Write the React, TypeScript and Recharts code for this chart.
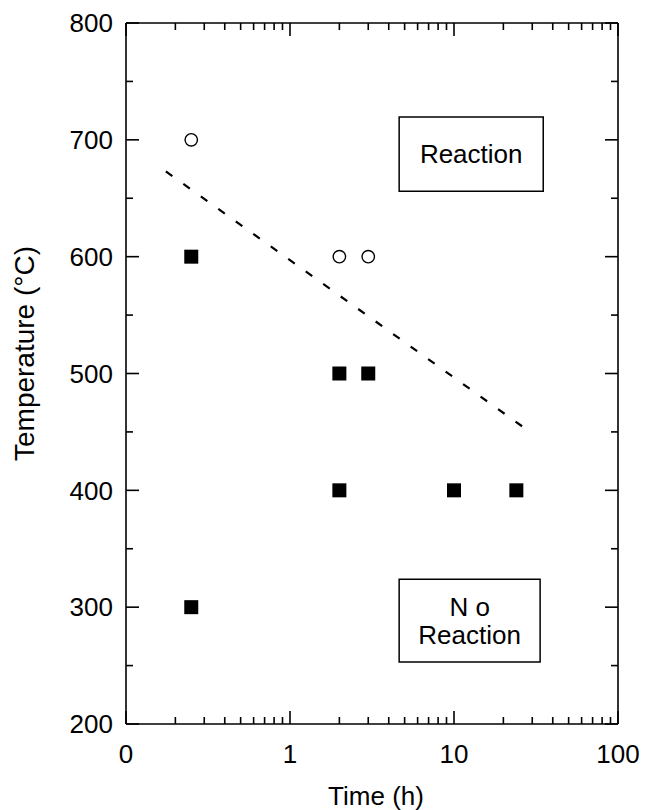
import React from 'react';
import {
  ScatterChart,
  Scatter,
  XAxis,
  YAxis,
  ReferenceLine,
  ReferenceArea,
} from 'recharts';

// ---- data ----
const xTicksMajor = [0.1, 1, 10, 100];
const xTickLabels = ['0', '1', '10', '100'];
const xTicksMinor = [
  0.2, 0.3, 0.4, 0.5, 0.6, 0.7, 0.8, 0.9,
  2, 3, 4, 5, 6, 7, 8, 9,
  20, 30, 40, 50, 60, 70, 80, 90,
];
const yTicksMajor = [200, 300, 400, 500, 600, 700, 800];
const yTicksMinor = [250, 350, 450, 550, 650, 750];

const noReactionTime = [0.25, 0.25, 2, 3, 2, 10, 24];
const noReactionTemp = [600, 300, 500, 500, 400, 400, 400];

const reactionTime = [0.25, 2, 3];
const reactionTemp = [700, 600, 600];

const boundaryTime = [0.175, 28.4];
const boundaryTemp = [673, 451];

const reactionBoxTime = [4.63, 35];
const reactionBoxTemp = [656, 719.5];
const noReactionBoxTime = [4.63, 33.5];
const noReactionBoxTemp = [253, 324];

const noReactionData = noReactionTime.map((t, i) => ({ x: t, y: noReactionTemp[i] }));
const reactionData = reactionTime.map((t, i) => ({ x: t, y: reactionTemp[i] }));

const xTicksAll = [...xTicksMajor, ...xTicksMinor].sort((a, b) => a - b);
const yTicksAll = [...yTicksMajor, ...yTicksMinor].sort((a, b) => a - b);

const FONT = '"Liberation Sans", Arial, Helvetica, sans-serif';
const FS = 26;
const MAJOR = 13;
const MINOR = 7;
const SW = 1.6;

const isMajorX = (v: number) => xTicksMajor.some((m) => Math.abs(m - v) < 1e-9);
const isMajorY = (v: number) => yTicksMajor.some((m) => Math.abs(m - v) < 1e-9);

// bottom axis: tickSize 0, tickMargin 21 -> y = plotBottom + 21
const BOTTOM_GAP = 21;
const BottomTick = (props: any) => {
  const { x, y, payload } = props;
  const v = payload.value;
  const major = isMajorX(v);
  const y0 = y - BOTTOM_GAP;
  const idx = xTicksMajor.findIndex((m) => Math.abs(m - v) < 1e-9);
  return (
    <g>
      <line x1={x} x2={x} y1={y0} y2={y0 - (major ? MAJOR : MINOR)} stroke="#000" strokeWidth={SW} />
      {major && (
        <text x={x} y={y} dy="0.71em" textAnchor="middle" fontFamily={FONT} fontSize={FS} fill="#000">
          {xTickLabels[idx]}
        </text>
      )}
    </g>
  );
};

const TopTick = (props: any) => {
  const { x, y, payload } = props;
  const major = isMajorX(payload.value);
  return <line x1={x} x2={x} y1={y} y2={y + (major ? MAJOR : MINOR)} stroke="#000" strokeWidth={SW} />;
};

// left axis: tickSize 0, tickMargin 13 -> x = plotLeft - 13
const LEFT_GAP = 13;
const LeftTick = (props: any) => {
  const { x, y, payload } = props;
  const v = payload.value;
  const major = isMajorY(v);
  const x0 = x + LEFT_GAP;
  return (
    <g>
      <line x1={x0} x2={x0 + (major ? MAJOR : MINOR)} y1={y} y2={y} stroke="#000" strokeWidth={SW} />
      {major && (
        <text x={x} y={y} dy="0.355em" textAnchor="end" fontFamily={FONT} fontSize={FS} fill="#000">
          {String(v)}
        </text>
      )}
    </g>
  );
};

const RightTick = (props: any) => {
  const { x, y, payload } = props;
  const major = isMajorY(payload.value);
  return <line x1={x} x2={x - (major ? MAJOR : MINOR)} y1={y} y2={y} stroke="#000" strokeWidth={SW} />;
};

const SquareShape = (props: any) => {
  const { cx, cy } = props;
  if (cx == null || cy == null) return <g />;
  return <rect x={cx - 7} y={cy - 7} width={14} height={14} fill="#000" />;
};

const CircleShape = (props: any) => {
  const { cx, cy } = props;
  if (cx == null || cy == null) return <g />;
  return <circle cx={cx} cy={cy} r={6.2} fill="#fff" stroke="#000" strokeWidth={1.4} />;
};

const NoShape = () => <g />;

const boxLabel = (lines: string[]) => (props: any) => {
  const vb = props.viewBox || {};
  const cx = vb.x + vb.width / 2;
  const cy = vb.y + vb.height / 2;
  const lh = 28;
  const startY = cy - ((lines.length - 1) * lh) / 2 + 9;
  return (
    <text x={cx} y={startY} textAnchor="middle" fontFamily={FONT} fontSize={FS} fill="#000">
      {lines.map((l, i) => (
        <tspan key={i} x={cx} dy={i === 0 ? 0 : lh}>
          {l}
        </tspan>
      ))}
    </text>
  );
};

const yTitle = (props: any) => {
  const vb = props.viewBox || {};
  const x = vb.x + 26;
  const y = vb.y + vb.height / 2 - 20;
  return (
    <text
      x={x}
      y={y}
      transform={`rotate(-90 ${x} ${y})`}
      textAnchor="middle"
      fontFamily={FONT}
      fontSize={28}
      fill="#000"
    >
      Temperature (°C)
    </text>
  );
};

const xTitle = (props: any) => {
  const vb = props.viewBox || {};
  const x = vb.x + vb.width / 2 + 4;
  const y = vb.y + 81;
  return (
    <text x={x} y={y} textAnchor="middle" fontFamily={FONT} fontSize={FS} fill="#000">
      Time (h)
    </text>
  );
};

const lineStyle = { stroke: '#000', strokeWidth: SW };

export default function App() {
  return (
    <div style={{ width: 637, height: 802, padding: '8px 0 0 8px', background: '#fff' }}>
      <style>{`html,body{margin:0;padding:0;overflow:hidden}`}</style>
      <ScatterChart
        width={637}
        height={802}
        margin={{ top: 14, right: 26, bottom: 0, left: 0 }}
      >
        <XAxis
          xAxisId="b"
          type="number"
          dataKey="x"
          scale="log"
          domain={[0.1, 100]}
          allowDataOverflow
          ticks={xTicksAll}
          interval={0}
          tick={BottomTick}
          tickLine={false}
          tickSize={0}
          tickMargin={BOTTOM_GAP}
          axisLine={lineStyle}
          height={86}
          label={{ content: xTitle }}
        />
        <XAxis
          xAxisId="t"
          orientation="top"
          type="number"
          dataKey="x"
          scale="log"
          domain={[0.1, 100]}
          allowDataOverflow
          ticks={xTicksAll}
          interval={0}
          tick={TopTick}
          tickLine={false}
          tickSize={0}
          tickMargin={0}
          axisLine={lineStyle}
          height={1}
        />
        <YAxis
          yAxisId="l"
          type="number"
          dataKey="y"
          domain={[200, 800]}
          allowDataOverflow
          ticks={yTicksAll}
          interval={0}
          tick={LeftTick}
          tickLine={false}
          tickSize={0}
          tickMargin={LEFT_GAP}
          axisLine={lineStyle}
          width={118}
          label={{ content: yTitle }}
        />
        <YAxis
          yAxisId="r"
          orientation="right"
          type="number"
          dataKey="y"
          domain={[200, 800]}
          allowDataOverflow
          ticks={yTicksAll}
          interval={0}
          tick={RightTick}
          tickLine={false}
          tickSize={0}
          tickMargin={0}
          axisLine={lineStyle}
          width={1}
        />

        <ReferenceArea
          xAxisId="b"
          yAxisId="l"
          x1={reactionBoxTime[0]}
          x2={reactionBoxTime[1]}
          y1={reactionBoxTemp[0]}
          y2={reactionBoxTemp[1]}
          fill="#fff"
          fillOpacity={1}
          stroke="#000"
          strokeWidth={1.5}
          ifOverflow="visible"
          label={boxLabel(['Reaction'])}
        />
        <ReferenceArea
          xAxisId="b"
          yAxisId="l"
          x1={noReactionBoxTime[0]}
          x2={noReactionBoxTime[1]}
          y1={noReactionBoxTemp[0]}
          y2={noReactionBoxTemp[1]}
          fill="#fff"
          fillOpacity={1}
          stroke="#000"
          strokeWidth={1.5}
          ifOverflow="visible"
          label={boxLabel(['N o', 'Reaction'])}
        />

        <ReferenceLine
          xAxisId="b"
          yAxisId="l"
          segment={[
            { x: boundaryTime[0], y: boundaryTemp[0] },
            { x: boundaryTime[1], y: boundaryTemp[1] },
          ]}
          stroke="#000"
          strokeWidth={2.2}
          strokeDasharray="8 13.5"
          ifOverflow="visible"
        />

        <Scatter
          xAxisId="t"
          yAxisId="r"
          data={noReactionData}
          shape={NoShape}
          isAnimationActive={false}
        />
        <Scatter
          xAxisId="b"
          yAxisId="l"
          data={noReactionData}
          shape={SquareShape}
          isAnimationActive={false}
        />
        <Scatter
          xAxisId="b"
          yAxisId="l"
          data={reactionData}
          shape={CircleShape}
          isAnimationActive={false}
        />
      </ScatterChart>
    </div>
  );
}
